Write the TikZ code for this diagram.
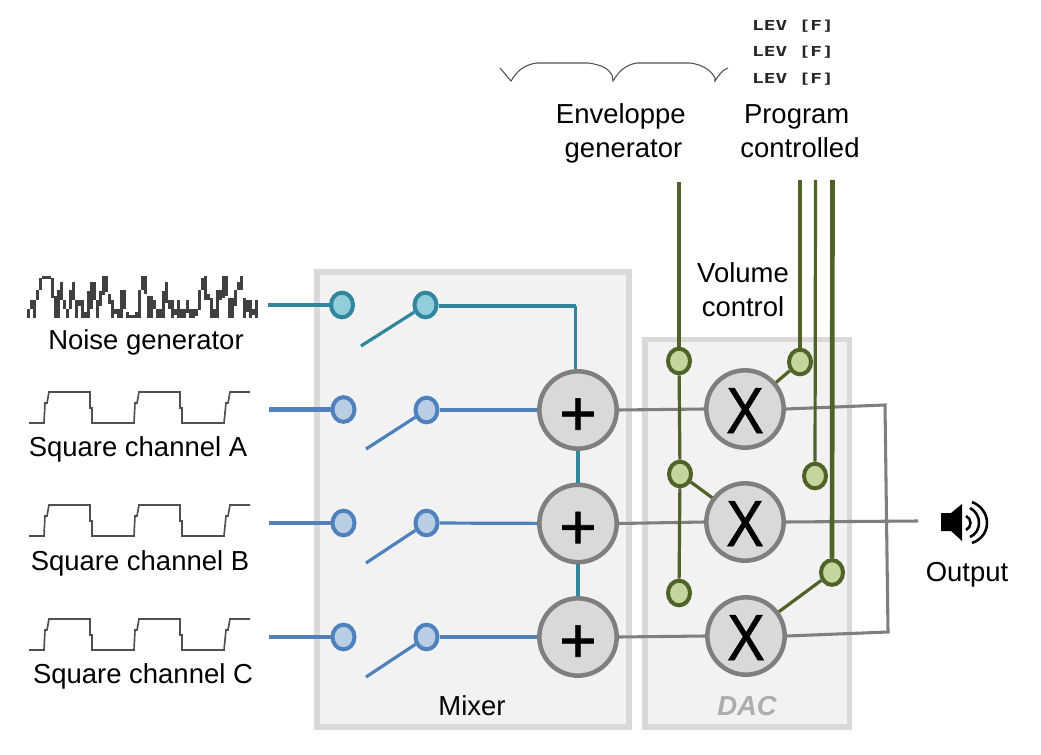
\documentclass[tikz,border=0pt]{standalone}
\usepackage{fontspec}
\usepackage{graphicx}
\setmainfont{Liberation Sans}
\newfontfamily\levfont{DejaVu Sans Mono}[BoldFont={DejaVu Sans Mono Bold}]
\newfontfamily\opfont{Liberation Sans}[FakeBold=1]
\usetikzlibrary{shapes.geometric}
\definecolor{boxedge}{HTML}{D9D9D9}
\definecolor{boxfill}{HTML}{F2F2F2}
\definecolor{tealline}{HTML}{31859C}
\definecolor{tealfill}{HTML}{92CDDC}
\definecolor{blueline}{HTML}{4F81BD}
\definecolor{bluefill}{HTML}{B9CDE5}
\definecolor{greenline}{HTML}{4F6228}
\definecolor{greenfill}{HTML}{C3D69B}
\definecolor{opline}{HTML}{7F7F7F}
\definecolor{opfill}{HTML}{D9D9D9}
\definecolor{wavecol}{HTML}{505050}
\definecolor{noisecol}{HTML}{404040}
\tikzset{
  x=.75pt,y=-.75pt,
  panel/.style={draw=boxedge,fill=boxfill,line width=3.8pt},
  term/.style={ellipse,inner sep=0pt,minimum width=16.5pt,minimum height=18.5pt,line width=3pt},
  tealterm/.style={term,draw=tealline,fill=tealfill},
  blueterm/.style={term,draw=blueline,fill=bluefill},
  greenterm/.style={term,draw=greenline,fill=greenfill},
  opnode/.style={circle,inner sep=0pt,minimum size=58pt,draw=opline,fill=opfill,line width=3.4pt},
  label/.style={font=\fontsize{20.6pt}{25.5pt}\selectfont,inner sep=0pt,align=center},
  lev/.style={font=\levfont\bfseries\fontsize{10.3pt}{12pt}\selectfont,inner sep=0pt,text=black!85},
  grayline/.style={draw=opline,line width=2.3pt},
  tealwire/.style={draw=tealline,line width=2.4pt},
  bluewire/.style={draw=blueline,line width=2.4pt},
  greenwire/.style={draw=greenline,line width=2.4pt},
  wave/.style={draw=wavecol,line width=1.25pt},
  plusmark/.style={font=\opfont\fontsize{48pt}{48pt}\selectfont},
}
\newcommand{\plussign}{\raisebox{-19pt}[0pt][0pt]{+}}
\newcommand{\timessign}{\raisebox{-18pt}[0pt][0pt]{\scalebox{.88}[1.02]{X}}}
\begin{document}
\begin{tikzpicture}
\useasboundingbox (0,0) rectangle (1041,755);
% panels
\draw[panel] (317,272) rectangle (629,727);
\draw[panel] (645,339.5) rectangle (849.5,727);
% noise
\foreach \t/\b [count=\i from 0] in {309/318,300/309,300/318,290/300,278/290,276/279,276/279,276/279,278/298,296/318,290/318,282/300,300/309,309/318,290/309,282/300,300/318,300/306,300/318,312/318,291/318,282/309,282/300,300/318,291/306,276/295,276/292,294/304,300/318,309/314,309/318,290/318,290/309,312/318,315/318,315/318,312/318,290/318,276/290,276/294,296/318,296/318,300/309,309/318,309/318,291/318,282/303,300/309,300/318,309/315,300/318,309/318,309/318,300/313,309/318,309/318,309/316,290/310,278/290,276/300,294/300,298/318,309/318,290/318,290/300,276/298,276/296,298/318,298/318,290/306,282/290,276/290,298/318,300/312,300/318,309/315,300/318}
  \fill[noisecol] ({27+3*\i},\t) rectangle ({29.7+3*\i},\b);
% square waves
\foreach \dy in {0,113,227}
  \draw[wave,shift={(0,\dy)}] (29,423) -- (44,423) -- (45,403) -- (47,403) -- (49,392) -- (90,392) -- (90,408) -- (92,408) -- (92,423)
    -- (134,423) -- (135,403) -- (137,403) -- (139,392) -- (180,392) -- (180,408) -- (182,408) -- (182,423)
    -- (224,423) -- (226,403) -- (228,403) -- (230,392) -- (250,392);
% envelope
\draw[draw=wavecol,line width=.8pt] (500,68) -- (511,81) .. controls (516,73) and (522,65) .. (537,63) -- (588,63) .. controls (604,65) and (609,70) .. (612,75) -- (613,81) .. controls (618,73) and (624,65) .. (637,63) -- (690,63) .. controls (705,65) and (712,72) .. (715,78) -- (715,81) .. controls (719,75) and (722,70) .. (728,68);
% terminals
\node[tealterm] (tn1) at (342,305) {};
\node[tealterm] (tn2) at (425.5,305) {};
\node[blueterm] (ta1) at (343.5,409.5) {};
\node[blueterm] (ta2) at (426.5,410) {};
\node[blueterm] (tb1) at (343.5,523) {};
\node[blueterm] (tb2) at (426.5,523) {};
\node[blueterm] (tc1) at (343.5,637) {};
\node[blueterm] (tc2) at (426.5,637) {};
\node[greenterm] (g1) at (679,361) {};
\node[greenterm] (g2) at (800,362) {};
\node[greenterm] (g3) at (680,474) {};
\node[greenterm] (g4) at (815,476) {};
\node[greenterm] (g5) at (679,593) {};
\node[greenterm] (g6) at (832,572.5) {};
% operators
\node[opnode,plusmark] (sa) at (578,410) {\plussign};
\node[opnode,plusmark] (sb) at (578,523.5) {\plussign};
\node[opnode,plusmark] (sc) at (578,637) {\plussign};
\node[opnode,plusmark] (ma) at (745,409) {\timessign};
\node[opnode,plusmark] (mb) at (745,522) {\timessign};
\node[opnode,plusmark] (mc) at (746,636) {\timessign};
% free ends
\coordinate (nin) at (268,305);
\coordinate (ain) at (269,409.5);
\coordinate (bin) at (269,523);
\coordinate (cin) at (269,637);
\coordinate (narm) at (361,346);
\coordinate (aarm) at (366,449);
\coordinate (barm) at (366,563);
\coordinate (carm) at (366,677);
\coordinate (ncorner) at (575.5,306);
\coordinate (outtop) at (885,405);
\coordinate (outbot) at (888,632);
\coordinate (outend) at (918,521);
\coordinate (gtop1) at (679,182);
\coordinate (gtop2) at (800,180);
\coordinate (gtop3) at (815.5,180);
\coordinate (gtop4) at (832.5,180);
% gray wires
\draw[grayline] (sa.east) -- (ma.west);
\draw[grayline] (sb.east) -- (mb.west);
\draw[grayline] (sc.east) -- (mc.west);
\draw[grayline] (ma.east) -- (outtop) -- (outbot) -- (mc.east);
\draw[grayline] (mb.east) -- (outend);
% teal wires
\draw[tealwire,line width=3.1pt] (nin) -- (tn1);
\draw[tealwire] (narm) -- (tn2);
\draw[tealwire,line width=3.1pt] (tn2.east |- ncorner) -- (ncorner);
\draw[tealwire] (ncorner) -- (ncorner |- sa.north);
\draw[tealwire] (sa) -- (sb);
\draw[tealwire] (sb) -- (sc);
% blue wires
\draw[bluewire,line width=3.3pt] (ain) -- (ta1);
\draw[bluewire] (bin) -- (tb1);
\draw[bluewire,line width=3.1pt] (cin) -- (tc1);
\draw[bluewire] (aarm) -- (ta2);
\draw[bluewire] (barm) -- (tb2);
\draw[bluewire] (carm) -- (tc2);
\draw[bluewire] (ta2) -- (sa);
\draw[bluewire] (tb2) -- (sb);
\draw[bluewire] (tc2) -- (sc);
% green wires
\draw[greenwire] (gtop1) -- (g1);
\draw[greenwire] (g1) -- (g3);
\draw[greenwire] (g3) -- (g5);
\draw[greenwire,line width=2.9pt] (gtop2) -- (g2);
\draw[greenwire] (gtop3) -- (g4);
\draw[greenwire,line width=3.5pt] (gtop4) -- (g6);
\draw[greenwire] (g2) -- (ma);
\draw[greenwire] (g3) -- (mb);
\draw[greenwire] (g6) -- (mc);
% labels
\node[label] (lnoise) at (146,342) {Noise generator};
\node[label] (la) at (138,449) {Square channel A};
\node[label] (lb) at (140,563) {Square channel B};
\node[label] (lc) at (143,676) {Square channel C};
\node[label] (lmixer) at (472,706) {Mixer};
\node[label,font=\fontsize{20.6pt}{25.5pt}\selectfont\bfseries\itshape,text=black!32] (ldac) at (747,706) {DAC};
\node[label] (lvol) at (743,290) {Volume\\control};
\node[label] (lout) at (967,575) {Output};
\node[label] (lenv) at (623.5,133.5) {Enveloppe\hspace*{4pt}\\generator};
\node[label] (lprog) at (800,131) {Program\hspace*{5pt}\\controlled};
\node[lev] (lev1) at (793,26) {\scalebox{1.41}[1]{LEV [F]}};
\node[lev] (lev2) at (793,52.5) {\scalebox{1.41}[1]{LEV [F]}};
\node[lev] (lev3) at (793,79) {\scalebox{1.41}[1]{LEV [F]}};
% speaker
\fill[black] (941,513) -- (951,513) -- (962,504) -- (962,541) -- (951,531) -- (941,531) -- cycle;
\draw[line width=1.9pt] (966,516) .. controls (972,519) and (972,527) .. (966,530);
\draw[line width=1.9pt] (970,508) .. controls (982,514) and (982,532) .. (970,537);
\draw[line width=1.9pt] (972,502) .. controls (992,510) and (992,536) .. (972,543);
\end{tikzpicture}
\end{document}
